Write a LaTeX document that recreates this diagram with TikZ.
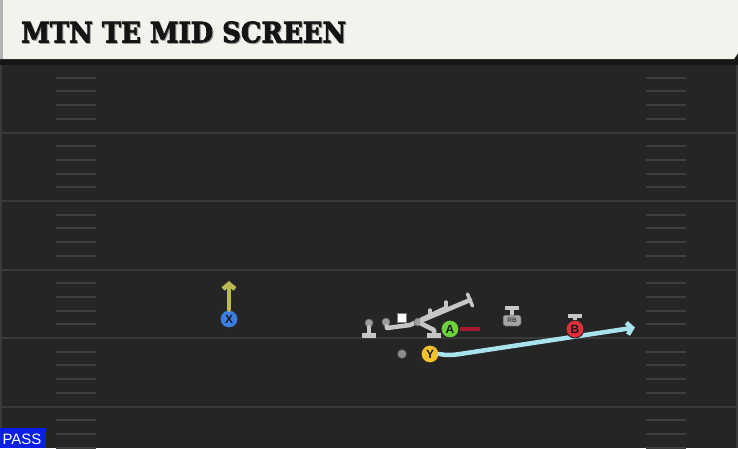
\documentclass[tikz,border=0pt]{standalone}
\usepackage{fontspec}
\setmainfont{DejaVu Serif}
\newfontfamily\titlefont{DejaVu Serif Bold}[FakeBold=2.5]
\newfontfamily\lab{Liberation Sans}
\usetikzlibrary{arrows.meta}
\definecolor{fieldbg}{HTML}{252525}
\definecolor{yardc}{HTML}{3A3A3A}
\definecolor{hashc}{HTML}{3E3E3E}
\definecolor{cream}{HTML}{F4F2EC}
\definecolor{shadowc}{HTML}{161616}
\definecolor{blkc}{HTML}{C6C6C6}
\definecolor{xblue}{HTML}{3C7FE0}
\definecolor{ayell}{HTML}{B9B955}
\definecolor{agreen}{HTML}{6CD23C}
\definecolor{ared}{HTML}{A3182E}
\definecolor{yyell}{HTML}{F2C12B}
\definecolor{cyanr}{HTML}{A9E3F0}
\definecolor{bred}{HTML}{DF2F3B}
\definecolor{rbgray}{HTML}{A5A5A5}
\definecolor{passblue}{HTML}{0A1FE6}
\tikzset{
  yard/.style={draw=yardc, line width=2pt},
  hash/.style={draw=hashc, line width=2pt},
  player/.style={circle, draw=black!85, line width=1pt, minimum size=18pt, inner sep=0pt, font=\lab\bfseries\fontsize{12}{12}\selectfont, text=black!90},
  blk/.style={draw=blkc, line width=4.5pt, line cap=round, line join=round},
  head/.style={circle, fill=blkc!80!black, draw=black!60, line width=0.6pt, minimum size=8pt, inner sep=0pt},
  route/.style={line width=4.5pt, line cap=round},
}
\begin{document}
\begin{tikzpicture}[x=1pt,y=-1pt]
\useasboundingbox (0,0) rectangle (738,448);
\fill[fieldbg] (0,0) rectangle (738,448);
\begin{scope}
\clip (0,0) rectangle (738,448);
\foreach \y in {132.5,201,269.5,338,406.5} \draw[yard] (0,\y) -- (738,\y);
\foreach \k in {0,...,5} \foreach \j in {1,...,4} {
  \pgfmathsetmacro\yy{64+68.5*\k+13.7*\j}
  \draw[hash] (56,\yy) -- (96,\yy);
  \draw[hash] (646,\yy) -- (686,\yy);
}
\draw[draw=yardc, line width=1.5pt] (1,64) -- (1,448);
\draw[draw=yardc, line width=1.5pt] (737,64) -- (737,448);
\end{scope}
% title bar
\fill[shadowc] (0,57) rectangle (738,65);
\fill[cream] (0,0) -- (738,0) -- (738,53) -- (734,59) -- (0,59) -- cycle;
\fill[black!30] (0,0) rectangle (3,59);
\node[anchor=south west, inner sep=0pt, text=black!40] at (22,44) {\resizebox{325pt}{21pt}{\titlefont MTN TE MID SCREEN}};
\node[anchor=south west, inner sep=0pt, text=black!92] (title) at (21,43) {\resizebox{325pt}{21pt}{\titlefont MTN TE MID SCREEN}};
% X receiver
\node[player, fill=xblue] (X) at (229,319) {X};
\coordinate (Xend) at (229,281);
\draw[route, draw=ayell, -{Straight Barb[length=5pt,width=12pt]}] (X.north) -- (Xend);
% line: left lineman
\node[head] (L1) at (369,323) {};
\draw[blk] (L1.south) -- (369,335);
\draw[blk, line cap=butt] (362,335.5) -- (376,335.5);
% block paths
\node[head] (L2) at (386,322) {};
\coordinate (P1a) at (387,328);
\coordinate (P1b) at (410,325);
\coordinate (P1c) at (446,308);
\draw[blk] (L2) -- (P1a) -- (P1b) -- (P1c);
\draw[blk, line width=3.5pt] (430,316) -- (430,310);
\draw[blk, line width=3.5pt] (446,308) -- (446,302);
\node[head] (L3) at (418,322) {};
\coordinate (P2e) at (470,300);
\draw[blk] (L3) -- (P2e);
\draw[blk, line width=3.5pt] (467.5,294) -- (472.5,306);
\draw[blk] (L3) -- (434,330) -- (434,335);
\draw[blk, line cap=butt] (427,335.5) -- (441,335.5);
\node[fill=white, draw=black!50, line width=0.5pt, minimum size=9pt, inner sep=0pt] (C) at (402,317.5) {};
% A
\node[player, fill=agreen] (A) at (450,329) {A};
\coordinate (Aend) at (480,329);
\draw[draw=ared, line width=4pt] (A.east) -- (Aend);
% Y and route
\node[circle, fill=black!45, draw=black!70, line width=0.5pt, minimum size=9pt, inner sep=0pt] (QB) at (402,354) {};
\node[player, fill=yyell] (Y) at (430,354) {Y};
\coordinate (Yend) at (635,327.5);
\draw[route, draw=cyanr, -{Straight Barb[length=5pt,width=12pt]}] (Y.east) .. controls (446,355.5) and (452,355) .. (458,354.3) -- (Yend);
% RB
\node[rounded corners=2.5pt, fill=rbgray, draw=black!70, line width=0.5pt, minimum width=18pt, minimum height=11pt, inner sep=0pt, font=\lab\bfseries\fontsize{6.5}{6.5}\selectfont, text=black!75] (RB) at (512,320.5) {RB};
\draw[blk, line cap=butt] (RB.north) -- (512,308);
\draw[blk, line cap=butt] (505,308) -- (519,308);
% B
\node[player, fill=bred] (B) at (575,329) {B};
\draw[blk, line cap=butt] (B.north) -- (575,316);
\draw[blk, line cap=butt] (568,316) -- (582,316);
% PASS label
\fill[passblue] (0,428) rectangle (46,448);
\node[anchor=center, inner sep=0pt, text=white, font=\lab\fontsize{15}{15}\selectfont] (pass) at (22,439) {PASS};
\end{tikzpicture}
\end{document}
